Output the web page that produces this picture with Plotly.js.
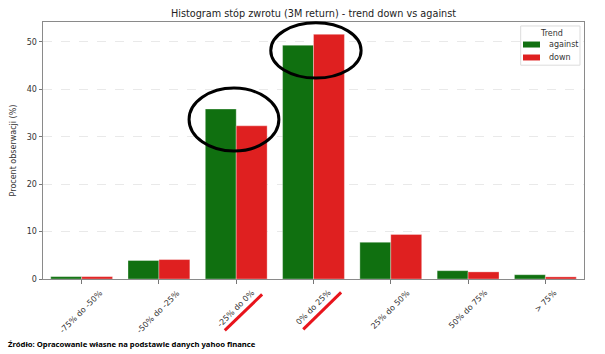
<!DOCTYPE html>
<html>
<head>
<meta charset="utf-8">
<script src="https://cdn.plot.ly/plotly-3.0.1.min.js"></script>
<style>
html,body{margin:0;padding:0;background:#fff;}
#chart{width:605px;height:354px;}
</style>
</head>
<body>
<div id="chart"></div>
<script>
// Data
const categories = ["-75% do -50%", "-50% do -25%", "-25% do 0%", "0% do 25%", "25% do 50%", "50% do 75%", "> 75%"];
const againstValues = [0.5, 3.9, 35.85, 49.3, 7.75, 1.75, 0.9];
const downValues = [0.5, 4.1, 32.3, 51.6, 9.4, 1.5, 0.45];
const seriesNames = ["against", "down"];
const legendTitle = "Trend";
const yTicks = [0, 10, 20, 30, 40, 50];

const GREEN = "#107010";
const RED = "#df2020";
const FONT = "DejaVu Sans";
const TXT = "#333";

const traces = [
  {
    type: "bar", name: seriesNames[0], x: categories, y: againstValues,
    marker: {color: GREEN, line: {color: "rgba(255,255,255,0.55)", width: 0.6}},
    hoverinfo: "skip"
  },
  {
    type: "bar", name: seriesNames[1], x: categories, y: downValues,
    marker: {color: RED, line: {color: "rgba(255,255,255,0.55)", width: 0.6}},
    hoverinfo: "skip"
  }
];

// x tick labels, centred under each tick (matplotlib style rotation=45, ha=center)
const tickAnnotations = categories.map(c => ({
  text: c, xref: "x", yref: "paper", x: c, y: -0.031,
  xanchor: "center", yanchor: "top", textangle: -45, showarrow: false,
  borderpad: 0, font: {family: FONT, size: 8, color: TXT}
}));

// Compact matplotlib-like legend
const legendShapes = [
  {type: "rect", xref: "paper", yref: "paper", x0: 0.883, x1: 0.9926, y0: 0.832, y1: 0.9845,
   fillcolor: "rgba(255,255,255,0.85)", line: {color: "#dcdcdc", width: 1}, layer: "above"},
  {type: "rect", xref: "paper", yref: "paper", x0: 0.8872, x1: 0.9187, y0: 0.9007, y1: 0.924,
   fillcolor: GREEN, line: {width: 0}, layer: "above"},
  {type: "rect", xref: "paper", yref: "paper", x0: 0.8872, x1: 0.9187, y0: 0.8503, y1: 0.8735,
   fillcolor: RED, line: {width: 0}, layer: "above"}
];
const legendAnnotations = [
  {text: legendTitle, xref: "paper", yref: "paper", x: 0.9403, y: 0.956, xanchor: "center", yanchor: "middle",
   showarrow: false, font: {family: FONT, size: 8, color: TXT}},
  {text: seriesNames[0], xref: "paper", yref: "paper", x: 0.9316, y: 0.9123, xanchor: "left", yanchor: "middle",
   showarrow: false, font: {family: FONT, size: 8, color: TXT}},
  {text: seriesNames[1], xref: "paper", yref: "paper", x: 0.9316, y: 0.8619, xanchor: "left", yanchor: "middle",
   showarrow: false, font: {family: FONT, size: 8, color: TXT}}
];

const layout = {
  width: 605, height: 354,
  margin: {l: 43, r: 21, t: 22, b: 74.5, pad: 0},
  paper_bgcolor: "#fff", plot_bgcolor: "#fff",
  font: {family: FONT, size: 8, color: TXT},
  barmode: "group", bargap: 0.2, bargroupgap: 0,
  showlegend: false,
  title: {
    text: "Histogram stóp zwrotu (3M return) - trend down vs against",
    font: {family: FONT, size: 9.7, color: "#222"},
    x: 0.5, xref: "paper", xanchor: "center",
    y: 1 - 14 / 354, yref: "container", yanchor: "middle"
  },
  xaxis: {
    type: "category", categoryorder: "array", categoryarray: categories,
    range: [-0.5, 6.5],
    showline: true, linecolor: "#8a8a8a", linewidth: 1, mirror: true,
    ticks: "outside", ticklen: 3.5, tickcolor: "#555", tickwidth: 0.8,
    showticklabels: false,
    showgrid: false, zeroline: false, fixedrange: true
  },
  yaxis: {
    range: [0, 54.2], tickvals: yTicks, ticktext: yTicks.map(String),
    showline: true, linecolor: "#8a8a8a", linewidth: 1, mirror: true,
    ticks: "outside", ticklen: 3.5, tickcolor: "#555", tickwidth: 0.8,
    tickfont: {family: FONT, size: 8, color: TXT},
    showgrid: true, gridcolor: "#e4e4e4", griddash: "dash", gridwidth: 0.8,
    zeroline: false, fixedrange: true,
    title: {text: "Procent obserwacji (%)", font: {family: FONT, size: 8, color: TXT}, standoff: 8}
  },
  shapes: [
    {type: "circle", xref: "paper", yref: "paper", x0: 0.270, x1: 0.436, y0: 0.498, y1: 0.743,
     line: {color: "#000", width: 3}},
    {type: "circle", xref: "paper", yref: "paper", x0: 0.421, x1: 0.588, y0: 0.782, y1: 0.997,
     line: {color: "#000", width: 3}},
    {type: "line", xref: "paper", yref: "paper", x0: 0.336, y0: -0.2, x1: 0.405, y1: -0.06,
     line: {color: "#e8141c", width: 3}},
    {type: "line", xref: "paper", yref: "paper", x0: 0.481, y0: -0.196, x1: 0.551, y1: -0.052,
     line: {color: "#e8141c", width: 3}}
  ].concat(legendShapes),
  annotations: [
    {text: "<b>Źródło: Opracowanie własne na podstawie danych yahoo finance</b>",
     xref: "paper", yref: "paper", x: -0.0686, y: -0.254, xanchor: "left", yanchor: "middle",
     showarrow: false, font: {family: "Noto Sans", size: 7.7, color: "#000"}}
  ].concat(tickAnnotations, legendAnnotations)
};

Plotly.newPlot("chart", traces, layout, {displayModeBar: false, staticPlot: true});
</script>
</body>
</html>
